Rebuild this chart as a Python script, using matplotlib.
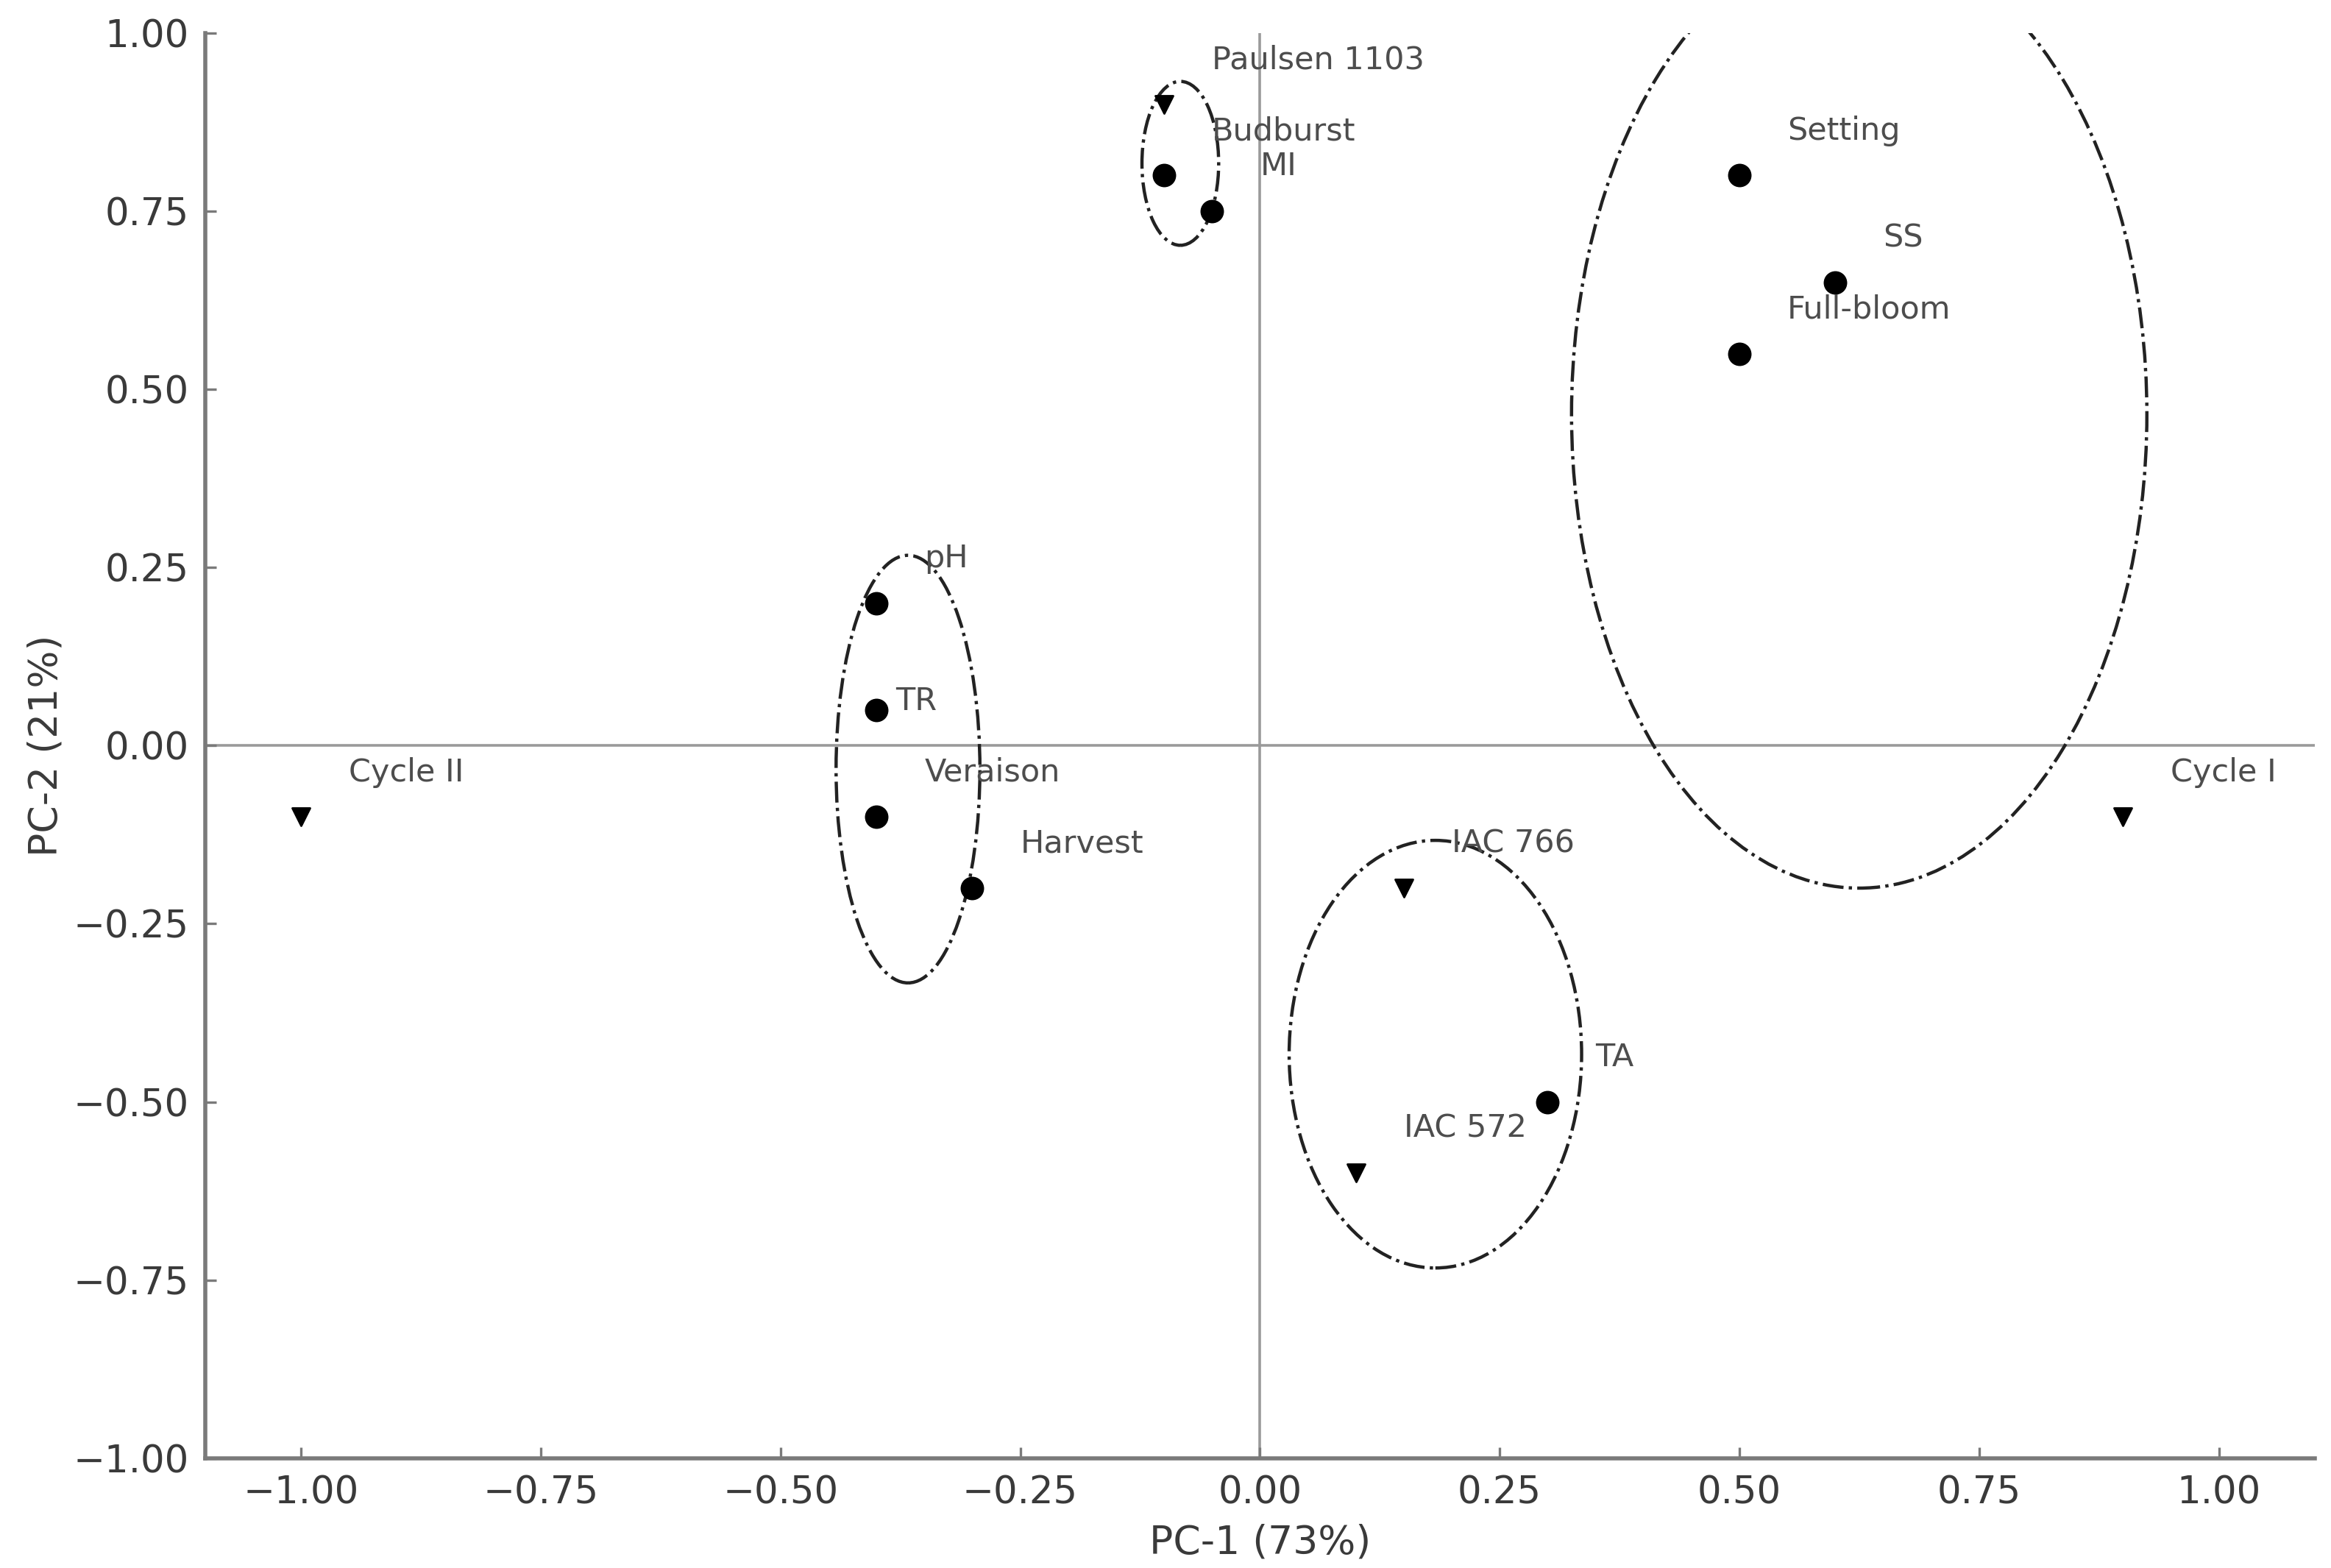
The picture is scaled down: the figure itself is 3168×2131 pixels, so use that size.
import matplotlib.pyplot as plt
from matplotlib.patches import Ellipse

# variables / stages (circles)
var_names = ['Budburst', 'MI', 'Setting', 'SS', 'Full-bloom', 'pH', 'TR', 'Veraison', 'Harvest', 'TA']
var_pc1 = [-0.10, -0.05, 0.50, 0.60, 0.50, -0.40, -0.40, -0.40, -0.30, 0.30]
var_pc2 = [0.80, 0.75, 0.80, 0.65, 0.55, 0.20, 0.05, -0.10, -0.20, -0.50]
var_dx = [0.05, 0.05, 0.05, 0.05, 0.05, 0.05, 0.02, 0.05, 0.05, 0.05]
var_dy = [0.05, 0.05, 0.05, 0.05, 0.05, 0.05, 0.00, 0.05, 0.05, 0.05]

# rootstocks / cycles (triangles)
obs_names = ['Paulsen 1103', 'Cycle II', 'Cycle I', 'IAC 766', 'IAC 572']
obs_pc1 = [-0.10, -1.00, 0.90, 0.15, 0.10]
obs_pc2 = [0.90, -0.10, -0.10, -0.20, -0.60]

# group ellipses
ell_x = [-0.083, -0.367, 0.183, 0.625]
ell_y = [0.817, -0.033, -0.433, 0.465]
ell_w = [0.08, 0.15, 0.305, 0.60]
ell_h = [0.23, 0.60, 0.60, 1.33]

ticks = [-1.0, -0.75, -0.5, -0.25, 0.0, 0.25, 0.5, 0.75, 1.0]

plt.rcParams['font.family'] = 'DejaVu Sans'
fig, ax = plt.subplots(figsize=(15.84, 10.655), dpi=200)
fig.subplots_adjust(left=0.088, right=0.993, top=0.979, bottom=0.070)

ax.axhline(0, color='#9a9a9a', linewidth=1.3, zorder=1)
ax.axvline(0, color='#9a9a9a', linewidth=1.3, zorder=1)

ax.scatter(var_pc1, var_pc2, marker='o', s=110, color='black', zorder=3)
ax.scatter(obs_pc1, obs_pc2, marker='v', s=75, color='black', zorder=3)

for n, x, y, dx, dy in zip(var_names, var_pc1, var_pc2, var_dx, var_dy):
    ax.text(x + dx, y + dy, n, fontsize=15.5, color='#4d4d4d')
for n, x, y in zip(obs_names, obs_pc1, obs_pc2):
    ax.text(x + 0.05, y + 0.05, n, fontsize=15.5, color='#4d4d4d')

for cx, cy, w, h in zip(ell_x, ell_y, ell_w, ell_h):
    ax.add_patch(Ellipse((cx, cy), w, h, fill=False, edgecolor='#222222',
                         linestyle='-.', linewidth=1.6, zorder=2))

ax.set_xlim(-1.1, 1.1)
ax.set_ylim(-1.0, 1.0)
ax.set_xticks(ticks)
ax.set_yticks(ticks)
fmt = plt.FuncFormatter(lambda v, p: f'{v:.2f}'.replace('-', '\u2212'))
ax.xaxis.set_major_formatter(fmt)
ax.yaxis.set_major_formatter(fmt)

for side in ['top', 'right']:
    ax.spines[side].set_visible(False)
for side in ['left', 'bottom']:
    ax.spines[side].set_color('#7a7a7a')
    ax.spines[side].set_linewidth(2.0)

ax.tick_params(direction='in', length=5.5, width=1.2, color='#7a7a7a',
               labelsize=18.5, labelcolor='#3a3a3a', pad=8)
ax.set_xlabel('PC-1 (73%)', fontsize=19.3, color='#3a3a3a', labelpad=6)
ax.set_ylabel('PC-2 (21%)', fontsize=19.3, color='#3a3a3a', labelpad=4)

fig.savefig('out.png', dpi=200)
